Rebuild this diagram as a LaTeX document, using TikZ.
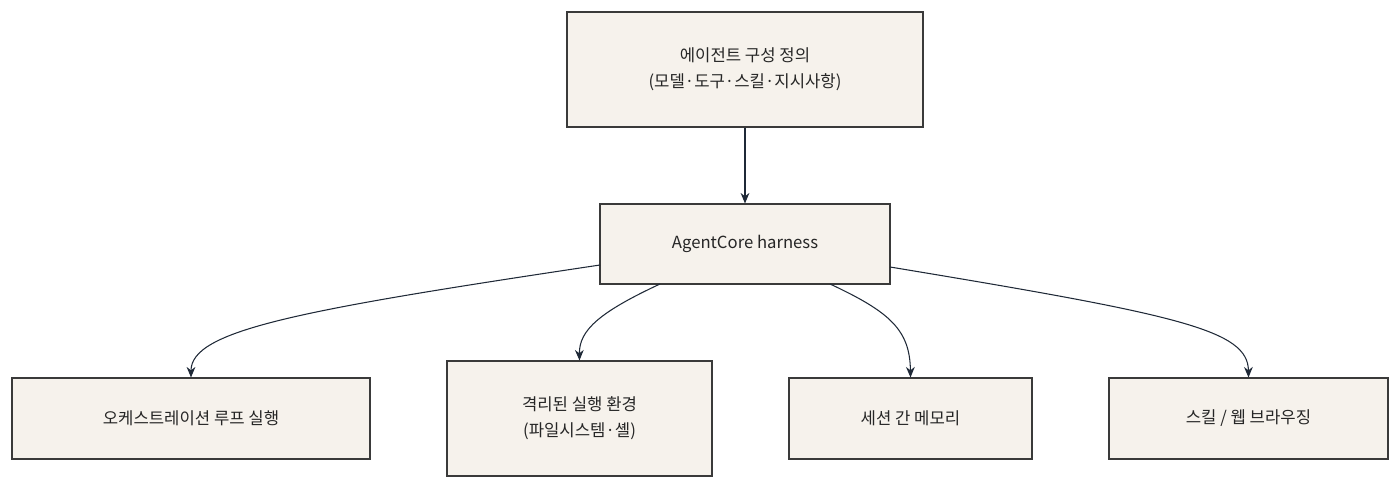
\documentclass[tikz,border=0pt]{standalone}
\usepackage{fontspec}
\setmainfont{Liberation Sans}
\newfontfamily\kr{Noto Sans CJK KR}
\usetikzlibrary{arrows.meta}
\definecolor{boxfill}{HTML}{F6F2EC}
\definecolor{boxline}{HTML}{3A3A3A}
\definecolor{edge}{HTML}{1F2937}
\tikzset{
  box/.style={draw=boxline, fill=boxfill, line width=0.6pt, align=center,
    inner sep=0pt, font=\kr\fontsize{9.5}{15}\selectfont, text=black!85},
  link/.style={draw=edge, line width=0.6pt, -{Stealth[length=6pt,width=5pt]}}
}
\begin{document}
\begin{tikzpicture}[x=0.02cm,y=-0.02cm]
\useasboundingbox (0,0) rectangle (1400,489);
%nodes
\node[box, minimum width=356*0.02cm, minimum height=115*0.02cm] (config)  at ( 745, 69.5) {에이전트 구성 정의\\(모델·도구·스킬·지시사항)};
\node[box, minimum width=290*0.02cm, minimum height= 80*0.02cm] (harness) at ( 745,244)   {AgentCore harness};
\node[box, minimum width=358*0.02cm, minimum height= 81*0.02cm] (loop)    at ( 191,418.5) {오케스트레이션 루프 실행};
\node[box, minimum width=265*0.02cm, minimum height=115*0.02cm] (sandbox) at ( 579.5,418.5) {격리된 실행 환경\\(파일시스템·셸)};
\node[box, minimum width=243*0.02cm, minimum height= 81*0.02cm] (memory)  at ( 910.5,418.5) {세션 간 메모리};
\node[box, minimum width=279*0.02cm, minimum height= 81*0.02cm] (skills)  at (1248.5,418.5) {스킬 / 웹 브라우징};

%edges
\draw[link] (config) -- (harness);
\draw[link] (600,265) .. controls (300,310) and (191,330) .. (loop.north);
\draw[link] (660,284) .. controls (600,312) and (579,330) .. (sandbox.north);
\draw[link] (830,284) .. controls (890,312) and (910,330) .. (memory.north);
\draw[link] (890,267) .. controls (1180,315) and (1248,330) .. (skills.north);
\end{tikzpicture}
\end{document}
